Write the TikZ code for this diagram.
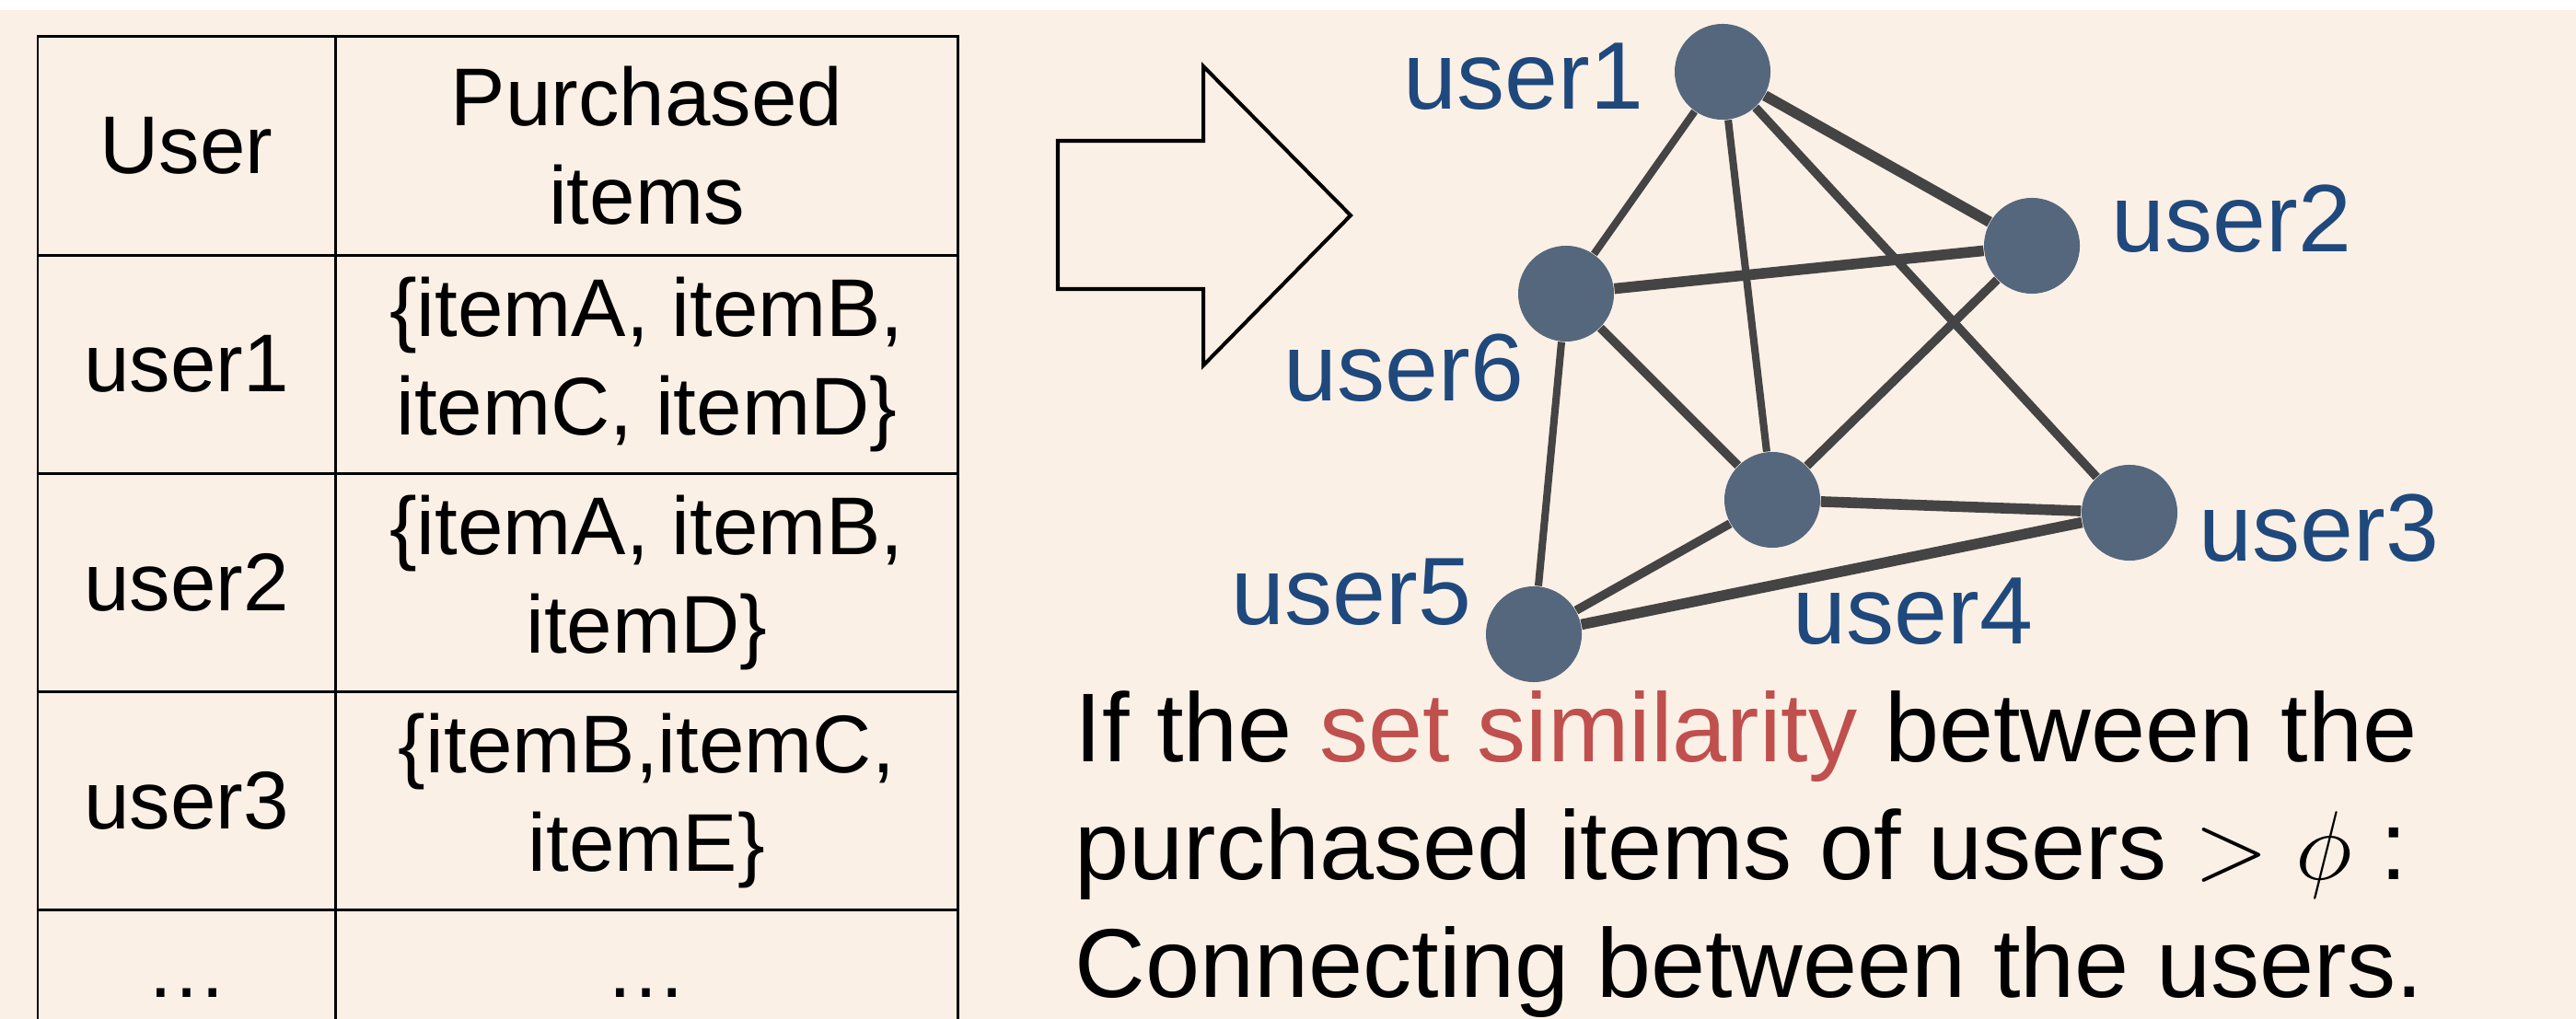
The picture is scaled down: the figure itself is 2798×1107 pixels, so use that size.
\RequirePackage{fix-cm}
\documentclass[tikz,border=0pt]{standalone}
\usepackage{fontspec}
\setmainfont{Liberation Sans}
\usepackage{xcolor}
\definecolor{simbg}{HTML}{FBF0E6}
\definecolor{simnode}{HTML}{55677D}
\definecolor{simedge}{HTML}{444444}
\definecolor{simblue}{HTML}{1F497D}
\definecolor{simred}{HTML}{C0504D}
\usepackage{tikz}
\usetikzlibrary{positioning}
\tikzset{
  simcell/.style={draw,line width=0.85pt,outer sep=0pt,inner sep=0pt,align=center,minimum height=2.37cm,font=\fontsize{25.3}{30.5}\selectfont},
  simkey/.style={simcell,minimum width=3.23cm},
  simval/.style={simcell,minimum width=6.76cm},
  simuser/.style={circle,fill=simnode,minimum size=1.04cm,inner sep=0pt},
  simlabel/.style={text=simblue,font=\fontsize{29.6}{35.5}\selectfont,inner sep=0pt,anchor=base},
  simthin/.style={draw=simedge,line width=2.3pt},
  simmid/.style={draw=simedge,line width=2.7pt},
  simthick/.style={draw=simedge,line width=3.3pt},
  simarrow/.style={draw,line width=1.15pt,line join=miter},
  simtext/.style={inner sep=0pt,align=left,font=\fontsize{30.2}{36.3}\selectfont},
}

\begin{document}
\begin{tikzpicture}[x=0.01cm,y=-0.01cm]
\useasboundingbox (0,0) rectangle (2798,1107);
\fill[white] (0,0) rectangle (2798,11);
\fill[simbg] (0,11) rectangle (2798,1107);

% caption above, cut off by the page
\node[simtext,anchor=base] (capl) at (2000,-21) {(};
\node[simtext,anchor=base] (capr) at (2228,-21) {)};

% table of purchases
\node[simkey,anchor=north west] (hkey) at (41,40) {User};
\node[simval,right=0pt of hkey] (hval) {Purchased\\items};
\node[simkey,below=0pt of hkey] (k1) {user1};
\node[simval,below=0pt of hval] (v1) {\{itemA, itemB,\\itemC, itemD\}};
\node[simkey,below=0pt of k1] (k2) {user2};
\node[simval,below=0pt of v1] (v2) {\{itemA, itemB,\\itemD\}};
\node[simkey,below=0pt of k2] (k3) {user3};
\node[simval,below=0pt of v2] (v3) {\{itemB,itemC,\\itemE\}};
\node[simkey,below=0pt of k3,minimum height=1.8cm] (k4) {…};
\node[simval,below=0pt of v3,minimum height=1.8cm] (v4) {…};

% block arrow
\draw[simarrow] (1149,153) -- (1307,153) -- (1307,72) -- (1467,234) -- (1307,397) -- (1307,314) -- (1149,314) -- cycle;

% user graph
\node[simuser] (n1) at (1871,78) {};
\node[simuser] (n2) at (2207,267) {};
\node[simuser] (n3) at (2313,557) {};
\node[simuser] (n4) at (1925,543) {};
\node[simuser] (n5) at (1666,689) {};
\node[simuser] (n6) at (1701,319) {};
\draw[simthin] (n1) -- (n6);
\draw[simthin] (n1) -- (n4);
\draw[simmid] (n1) -- (n3);
\draw[simthick] (n1) -- (n2);
\draw[simthick] (n6) -- (n2);
\draw[simmid] (n6) -- (n4);
\draw[simthin] (n6) -- (n5);
\draw[simmid] (n2) -- (n4);
\draw[simthick] (n4) -- (n3);
\draw[simmid] (n4) -- (n5);
\draw[simthick] (n5) -- (n3);

\node[simlabel] (l1) at (1655,119) {user1};
\node[simlabel] (l2) at (2424,274) {user2};
\node[simlabel] (l3) at (2519,610) {user3};
\node[simlabel] (l4) at (2078,699) {user4};
\node[simlabel] (l5) at (1468,679) {user5};
\node[simlabel] (l6) at (1525,436) {user6};

% rule text (base = last line)
\node[simtext,anchor=base west] (rule) at (1167,1083) {If the \textcolor{simred}{set similarity} between the\\purchased items of users $>\phi$ :\\Connecting between the users.};
\end{tikzpicture}
\end{document}
